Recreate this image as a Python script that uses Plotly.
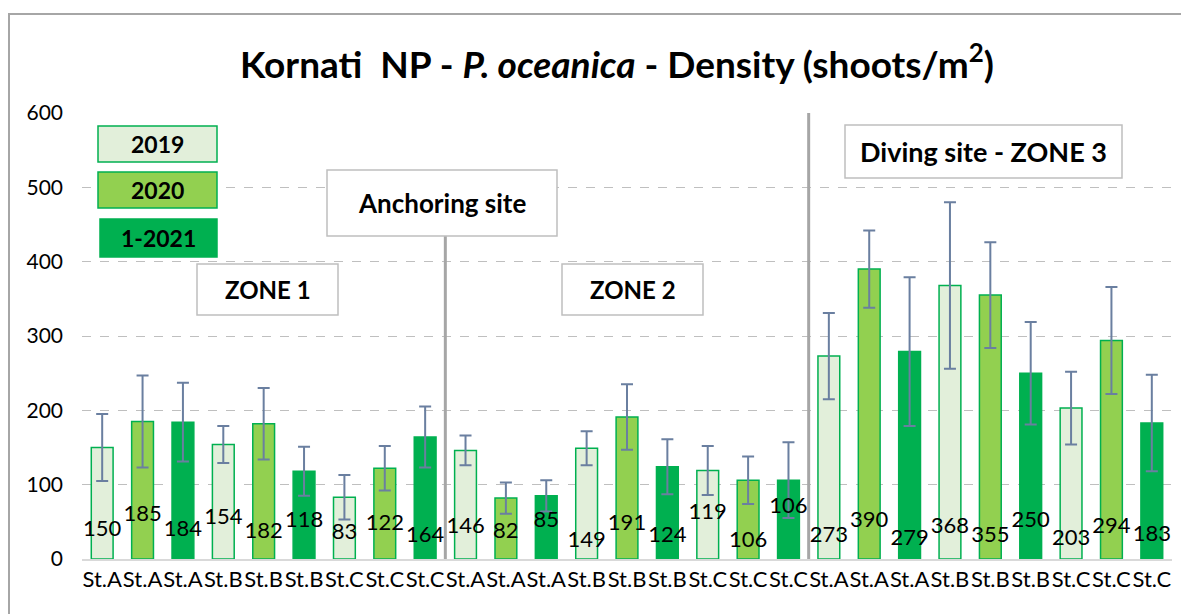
import plotly.graph_objects as go

# ---------------- data ----------------
categories = ["St.A", "St.A", "St.A", "St.B", "St.B", "St.B", "St.C", "St.C", "St.C"] * 3
years = ["2019", "2020", "1-2021"] * 9
values = [150, 185, 184, 154, 182, 118, 83, 122, 164,
          146, 82, 85, 149, 191, 124, 119, 106, 106,
          273, 390, 279, 368, 355, 250, 203, 294, 183]
errors = [45, 62, 53, 25, 48, 33, 30, 30, 41,
          20, 21, 21, 23, 44, 37, 33, 32, 51,
          58, 52, 100, 112, 71, 69, 49, 72, 65]
# vertical placement of the value labels (data units), as in the reference
label_heights = [38, 59, 38, 54, 35, 50, 34, 47, 30,
                 43, 35, 51, 24, 47, 30, 61, 24, 69,
                 30, 50, 26, 42, 30, 51, 26, 43, 31]
y_ticks = [0, 100, 200, 300, 400, 500, 600]
year_order = ["2019", "2020", "1-2021"]

# ---------------- styles ----------------
FONT = "Lato"
fills = {"2019": "#e2efda", "2020": "#92d050", "1-2021": "#00b050"}
edges = {"2019": "#00b050", "2020": "#00b050", "1-2021": "#00b050"}
ERR = "#6a7fa0"

OFF = 8  # page body margin
W, H = 1189 - OFF, 614 - OFF
L, R, T, B = 82 - OFF, 17, 113 - OFF, 55
PW, PH = W - L - R, H - T - B


def px(x):  # page pixel -> paper x
    return (x - OFF - L) / PW


def py(y):  # page pixel -> paper y
    return (H - B - (y - OFF)) / PH


fig = go.Figure()
xs = list(range(len(values)))
for yr in year_order:
    idx = [i for i in xs if years[i] == yr]
    fig.add_trace(go.Bar(
        x=[xs[i] for i in idx],
        y=[values[i] for i in idx],
        name=yr,
        width=0.54,
        marker=dict(color=fills[yr], line=dict(color=edges[yr], width=1.5)),
        error_y=dict(type="data", array=[errors[i] for i in idx],
                     color=ERR, thickness=2, width=6),
        showlegend=False,
        hoverinfo="x+y",
    ))

fig.add_trace(go.Scatter(
    x=xs, y=label_heights, mode="text",
    text=[str(v) for v in values],
    textfont=dict(family=FONT, size=22, color="#000000"),
    showlegend=False, hoverinfo="skip",
))

shapes = []
annotations = []

# separators
shapes.append(dict(type="line", xref="x", yref="paper", x0=8.5, x1=8.5, y0=0, y1=py(236),
                   line=dict(color="#a6a6a6", width=3)))
shapes.append(dict(type="line", xref="x", yref="paper", x0=17.5, x1=17.5, y0=0, y1=1,
                   line=dict(color="#a6a6a6", width=3)))

# outer chart border
shapes.append(dict(type="rect", xref="paper", yref="paper",
                   x0=px(9), x1=px(1220), y0=py(640), y1=py(14),
                   line=dict(color="#a6a6a6", width=2), fillcolor="rgba(0,0,0,0)", layer="below"))


def box(text, x0, y0, x1, y1, fill, line, size):
    shapes.append(dict(type="rect", xref="paper", yref="paper",
                       x0=px(x0), x1=px(x1), y0=py(y1), y1=py(y0),
                       fillcolor=fill, line=dict(color=line, width=1.5)))
    annotations.append(dict(xref="paper", yref="paper", x=px((x0 + x1) / 2), y=py((y0 + y1) / 2),
                            text="<b>%s</b>" % text, showarrow=False,
                            xanchor="center", yanchor="middle",
                            font=dict(family=FONT, size=size, color="#000000")))


box("2019", 98, 126, 217, 162, fills["2019"], "#00b050", 23)
box("2020", 98, 172, 217, 208, fills["2020"], "#00b050", 23)
box("1-2021", 100, 219, 217, 257, fills["1-2021"], "#00b050", 23)
box("Anchoring site", 327, 170, 557, 236, "#ffffff", "#bfbfbf", 26)
box("ZONE 1", 197, 264, 338, 315, "#ffffff", "#bfbfbf", 24)
box("ZONE 2", 562, 264, 703, 315, "#ffffff", "#bfbfbf", 24)
box("Diving site - ZONE 3", 845, 125, 1122, 178, "#ffffff", "#bfbfbf", 27)

fig.update_layout(
    width=W, height=H,
    margin=dict(l=L, r=R, t=T, b=B, pad=0),
    paper_bgcolor="#ffffff", plot_bgcolor="#ffffff",
    barmode="overlay",
    title=dict(text="<b>Kornati  NP - <i>P. oceanica</i> - Density (shoots/m<sup>2</sup>)</b>",
               x=(617 - OFF) / W, xanchor="center", y=1 - (65 - OFF) / H, yanchor="middle",
               font=dict(family=FONT, size=37, color="#000000")),
    xaxis=dict(range=[-0.5, len(values) - 0.5], tickmode="array", tickvals=xs, ticktext=categories,
               tickfont=dict(family=FONT, size=22, color="#000000"), showgrid=False,
               showline=True, linecolor="#d9d9d9", linewidth=1.5, ticks="", ticklen=0,
               tickangle=0, zeroline=False),
    yaxis=dict(range=[0, 600], tickmode="array", tickvals=y_ticks,
               tickfont=dict(family=FONT, size=21, color="#000000"),
               showgrid=True, gridcolor="#bfbfbf", griddash="dash", gridwidth=1,
               zeroline=False, showline=False, ticks="", ticklabelstandoff=18),
    shapes=shapes,
    annotations=annotations,
    hovermode="closest",
)

fig.write_html("out.html")
